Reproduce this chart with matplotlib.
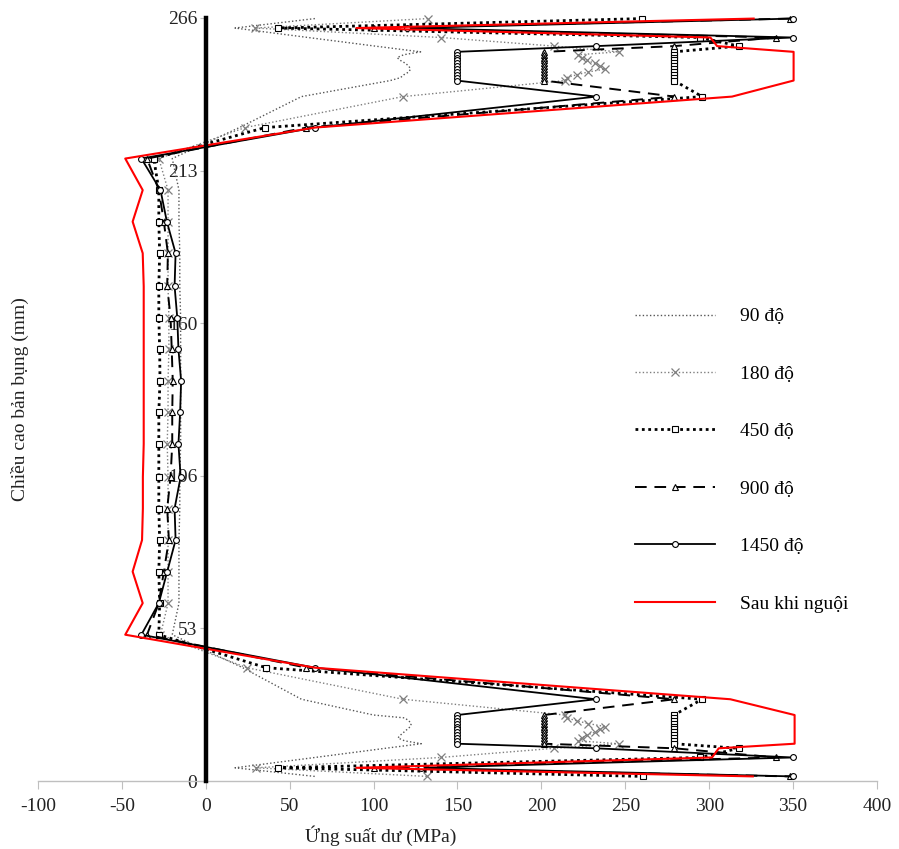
import matplotlib
matplotlib.use("Agg")
import matplotlib.pyplot as plt

plt.rcParams["font.family"] = ["Liberation Serif", "DejaVu Serif"]
plt.rcParams["font.size"] = 14
plt.rcParams["axes.unicode_minus"] = False

# heights along the web (mm): top flange, web, bottom flange
height_mm = [
    265.8, 262.5, 259.2, 256.2, 254.2, 253.2, 252.2, 251.2, 250.2, 249.2, 248.2, 247.2, 246.2, 245.2, 244.2, 238.6, 227.8,
    217, 206, 195, 184, 172.5, 161.5, 150.5, 139.5, 128.5, 117.5, 106, 95, 84, 73, 62, 51,
    39.5, 28.5, 23, 22, 21, 20, 19, 18, 17, 16, 15, 14, 13, 11.4, 8.2, 4.6, 1.6,
]

# residual stress (MPa) for each heating case, same order as height_mm
stress_90 = [
    65, 17.4, 61, 101, 128, 118, 114, 116, 119, 121, 122, 121, 118, 116, 110, 57, 20,
    -20, -16, -16, -15.5, -15.5, -15, -15, -15, -15, -15, -15.5, -15.5, -16, -16, -16, -20,
    22, 57, 100, 118.5, 121, 122.4, 122, 120, 118, 116, 114.5, 118.5, 128.4, 107, 65, 17.4, 65,
]
stress_180 = [
    132.3, 29.3, 140.3, 207.6, 246, 222, 224, 227, 232, 235, 238, 228, 221, 215, 214, 117.5, 23.4,
    -28, -22.5, -22.5, -22.5, -22.5, -22, -22, -22.5, -22.5, -23, -22.5, -22.5, -22.5, -22.5, -22.5, -27,
    24.4, 117.5, 214, 215, 221, 228, 238, 235, 232, 227, 224, 222, 246, 207.7, 139.9, 29.7, 132,
]
stress_450 = [
    260.1, 43.2, 294.8, 317.6, 279, 279, 279, 279, 279, 279, 279, 279, 279, 279, 279, 295.8, 35.3,
    -31, -28, -28, -27.5, -28, -28, -27.5, -27.3, -28, -28, -28, -28, -27.5, -28, -27.5, -28,
    35.9, 295.8, 279, 279, 279, 279, 279, 279, 279, 279, 279, 279, 279, 317.6, 294.8, 43.2, 260.5,
]
stress_900 = [
    348, 100, 340, 279.3, 201.3, 201.3, 201.3, 201.3, 201.3, 201.3, 201.3, 201.3, 201.3, 201.3, 201.3, 279.3, 60,
    -35, -28, -25, -22.6, -23, -21, -20.3, -19.7, -20, -20, -21, -23, -22, -25, -28, -35,
    60, 279.3, 201.3, 201.3, 201.3, 201.3, 201.3, 201.3, 201.3, 201.3, 201.3, 201.3, 201.3, 279.3, 340, 100, 348,
]
stress_1450 = [
    350, 120, 350, 232.7, 149.5, 149.5, 149.5, 149.5, 149.5, 149.5, 149.5, 149.5, 149.5, 149.5, 149.5, 232.7, 65,
    -38.4, -27, -23.2, -18, -18.6, -17, -16.3, -14.7, -15.3, -16.3, -15, -18.6, -18, -23, -28, -38.4,
    65, 232.4, 149.8, 149.8, 149.8, 149.8, 149.8, 149.8, 149.8, 149.8, 149.8, 149.8, 149.8, 232.4, 350, 128, 350,
]
stress_cooled = [
    326.5, 89.7, 300.7, 304.7, 350.3, 350.3, 350.3, 350.3, 350.3, 350.3, 350.3, 350.3, 350.3, 350.3, 350.3, 313.6, 65,
    -48, -37.6, -43.6, -37.6, -37, -37, -37, -37, -37, -37, -37.5, -37.5, -38, -43.6, -37.6, -48,
    65, 312.6, 350.9, 350.9, 350.9, 350.9, 350.9, 350.9, 350.9, 350.9, 350.9, 350.9, 350.9, 305.7, 301.7, 89.7, 326,
]

y_ticks = [0, 53.2, 106.4, 159.6, 212.8, 266]
y_tick_labels = ["0", "53", "106", "160", "213", "266"]
x_ticks = [-100, -50, 0, 50, 100, 150, 200, 250, 300, 350, 400]

fig = plt.figure(figsize=(8.99, 8.49), dpi=100)
ax = fig.add_axes([38 / 899, 68 / 849, 839 / 899, 763 / 849])

ax.plot(stress_90, height_mm, linestyle=(0, (1, 1.6)), color="#555555", lw=1.0,
        label="90 độ", clip_on=False)
ax.plot(stress_180, height_mm, linestyle=(0, (1, 1.6)), color="#7f7f7f", lw=1.0,
        marker="x", ms=6, mew=0.9, mec="#7f7f7f", label="180 độ", clip_on=False)
ax.plot(stress_450, height_mm, linestyle=(0, (1, 1.3)), color="black", lw=2.0,
        marker="s", ms=4.2, mew=0.8, mfc="white", mec="black", label="450 độ", clip_on=False)
ax.plot(stress_900, height_mm, linestyle=(0, (6, 4)), color="black", lw=1.4,
        marker="^", ms=4.8, mew=0.8, mfc="white", mec="black", label="900 độ", clip_on=False)
ax.plot(stress_1450, height_mm, linestyle="-", color="black", lw=1.3,
        marker="o", ms=4.2, mew=0.8, mfc="white", mec="black", label="1450 độ", clip_on=False)
ax.plot(stress_cooled, height_mm, linestyle="-", color="#ff0000", lw=1.5,
        label="Sau khi nguội", clip_on=False)

ax.set_xlim(-100, 400)
ax.set_ylim(0, 266)
ax.set_xticks(x_ticks)
ax.set_yticks(y_ticks)
ax.set_yticklabels(y_tick_labels)

for side in ["top", "right"]:
    ax.spines[side].set_visible(False)
ax.spines["left"].set_position(("data", 0))
ax.spines["left"].set_linewidth(3.2)
ax.spines["left"].set_color("black")
ax.spines["left"].set_zorder(5)
ax.spines["bottom"].set_color("#bfbfbf")
ax.spines["bottom"].set_linewidth(1.0)

ax.tick_params(axis="x", direction="out", length=6, color="#bfbfbf", pad=6, labelcolor="#222222")
ax.tick_params(axis="y", direction="out", length=4, color="#bfbfbf", pad=2, labelcolor="#222222")

ax.set_xlabel("Ứng suất dư (MPa)", color="#222222")
ax.set_ylabel("Chiều cao bản bụng (mm)", color="#222222")
ax.xaxis.set_label_coords(0.409, -0.058)
ax.yaxis.set_label_coords(-0.011, 0.5)

ax.legend(loc="upper left", bbox_to_anchor=(0.70, 0.633), frameon=False,
          handlelength=4.1, handletextpad=1.3, labelspacing=2.05, borderpad=0)

fig.savefig("out.png", dpi=100)
